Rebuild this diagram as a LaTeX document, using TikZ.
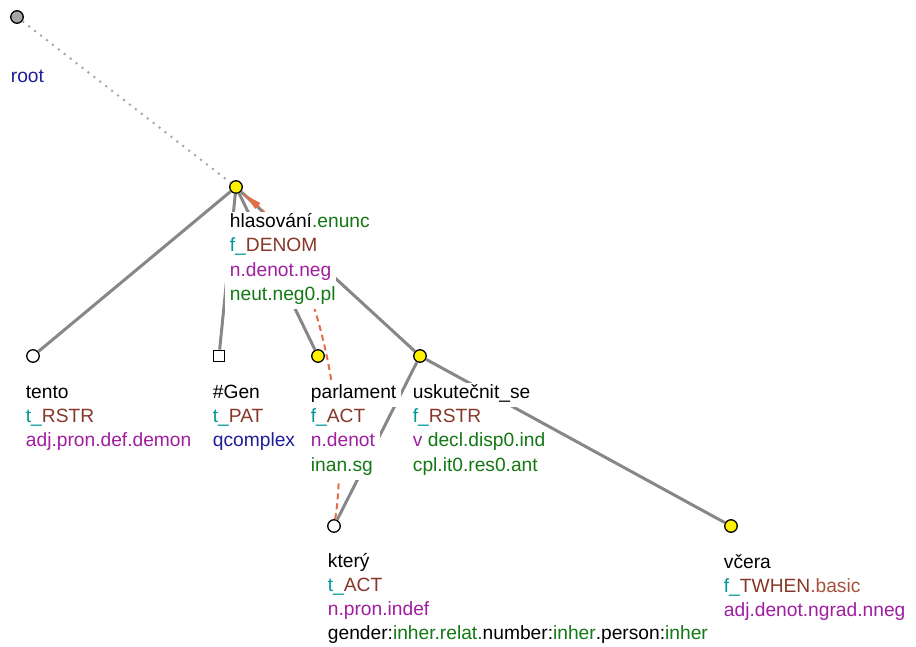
\documentclass[tikz,border=0pt]{standalone}
\usepackage{fontspec}
\setmainfont{Liberation Sans}
\usetikzlibrary{arrows.meta}
\definecolor{cgreen}{RGB}{20,120,20}
\definecolor{cteal}{RGB}{0,150,150}
\definecolor{cbrown}{RGB}{135,55,40}
\definecolor{csienna}{RGB}{170,80,60}
\definecolor{cpurple}{RGB}{160,30,160}
\definecolor{cblue}{RGB}{30,30,150}
\definecolor{corange}{RGB}{225,110,70}
\definecolor{cedge}{RGB}{135,135,135}
\definecolor{croot}{RGB}{165,165,165}
\setlength{\fboxsep}{0pt}
\newcommand\lblfont{\fontsize{19.2}{24.2}\selectfont\lineskiplimit=-20pt\relax\lineskip=0pt\relax}
\newcommand\lbox[1]{\colorbox{white}{\hspace{5pt}\rule[-8.7pt]{0pt}{24.2pt}#1\hspace{5pt}}}
\begin{document}
\begin{tikzpicture}[x=1pt,y=-1pt,
  tnode/.style={circle,draw=black,line width=1.3pt,inner sep=0pt,minimum size=12.5pt,fill=white},
  yel/.style={tnode,fill=yellow},
  edge/.style={draw=cedge,line width=3pt},
  lbl/.style={anchor=north west,inner sep=0pt,align=left,font=\lblfont}]
\useasboundingbox (0,0) rectangle (916,646);
\node[tnode,fill=croot] (root) at (17,17) {};
\node[yel] (hlas) at (236,187) {};
\node[tnode] (tento) at (33,356) {};
\node[draw=black,line width=1.3pt,fill=white,inner sep=0pt,minimum size=11.5pt] (gen) at (219,356) {};
\node[yel] (parl) at (318,356) {};
\node[yel] (usk) at (420,356) {};
\node[tnode] (ktery) at (334,526) {};
\node[yel] (vcera) at (731,526) {};
\draw[croot,line width=2pt,dash pattern=on 2pt off 5.5pt] (root) -- (hlas);
\draw[edge] (hlas) -- (tento);
\draw[edge] (hlas) -- (gen);
\draw[edge] (hlas) -- (parl);
\draw[edge] (hlas) -- (usk);
\draw[edge] (usk) -- (ktery);
\draw[edge] (usk) -- (vcera);
\draw[corange,line width=2pt,dash pattern=on 6pt off 4pt,-{Latex[length=22pt,width=8pt]}] (ktery) .. controls (350,430) and (320,260) .. (hlas);
\node[lbl] (root-l) at (5.7,66.5) {\lbox{\textcolor{cblue}{root}}};
\node[lbl] (hlas-l) at (224.7,212) {\lbox{hlasování\textcolor{cgreen}{.enunc}}\\
  \lbox{\textcolor{cteal}{f\_}\textcolor{cbrown}{DENOM}}\\
  \lbox{\textcolor{cpurple}{n.denot.neg}}\\
  \lbox{\textcolor{cgreen}{neut.neg0.pl}}};
\node[lbl] (tento-l) at (20.7,382.8) {\lbox{tento}\\
  \lbox{\textcolor{cteal}{t\_}\textcolor{cbrown}{RSTR}}\\
  \lbox{\textcolor{cpurple}{adj.pron.def.demon}}};
\node[lbl] (gen-l) at (207.7,382.8) {\lbox{\#Gen}\\
  \lbox{\textcolor{cteal}{t\_}\textcolor{cbrown}{PAT}}\\
  \lbox{\textcolor{cblue}{qcomplex}}};
\node[lbl] (parl-l) at (305.7,382.8) {\lbox{parlament}\\
  \lbox{\textcolor{cteal}{f\_}\textcolor{cbrown}{ACT}}\\
  \lbox{\textcolor{cpurple}{n.denot}}\\
  \lbox{\textcolor{cgreen}{inan.sg}}};
\node[lbl] (usk-l) at (407.7,382.8) {\lbox{uskutečnit\_se}\\
  \lbox{\textcolor{cteal}{f\_}\textcolor{cbrown}{RSTR}}\\
  \lbox{\textcolor{cpurple}{v}\ \textcolor{cgreen}{decl.disp0.ind}}\\
  \lbox{\textcolor{cgreen}{cpl.it0.res0.ant}}};
\node[lbl] (ktery-l) at (322.7,551.5) {\lbox{který}\\
  \lbox{\textcolor{cteal}{t\_}\textcolor{cbrown}{ACT}}\\
  \lbox{\textcolor{cpurple}{n.pron.indef}}\\
  \lbox{gender:\textcolor{cgreen}{inher.relat.}number:\textcolor{cgreen}{inher}.person:\textcolor{cgreen}{inher}}};
\node[lbl] (vcera-l) at (718.7,552.5) {\lbox{včera}\\
  \lbox{\textcolor{cteal}{f\_}\textcolor{cbrown}{TWHEN}\textcolor{csienna}{.basic}}\\
  \lbox{\textcolor{cpurple}{adj.denot.ngrad.nneg}}};
\end{tikzpicture}
\end{document}
